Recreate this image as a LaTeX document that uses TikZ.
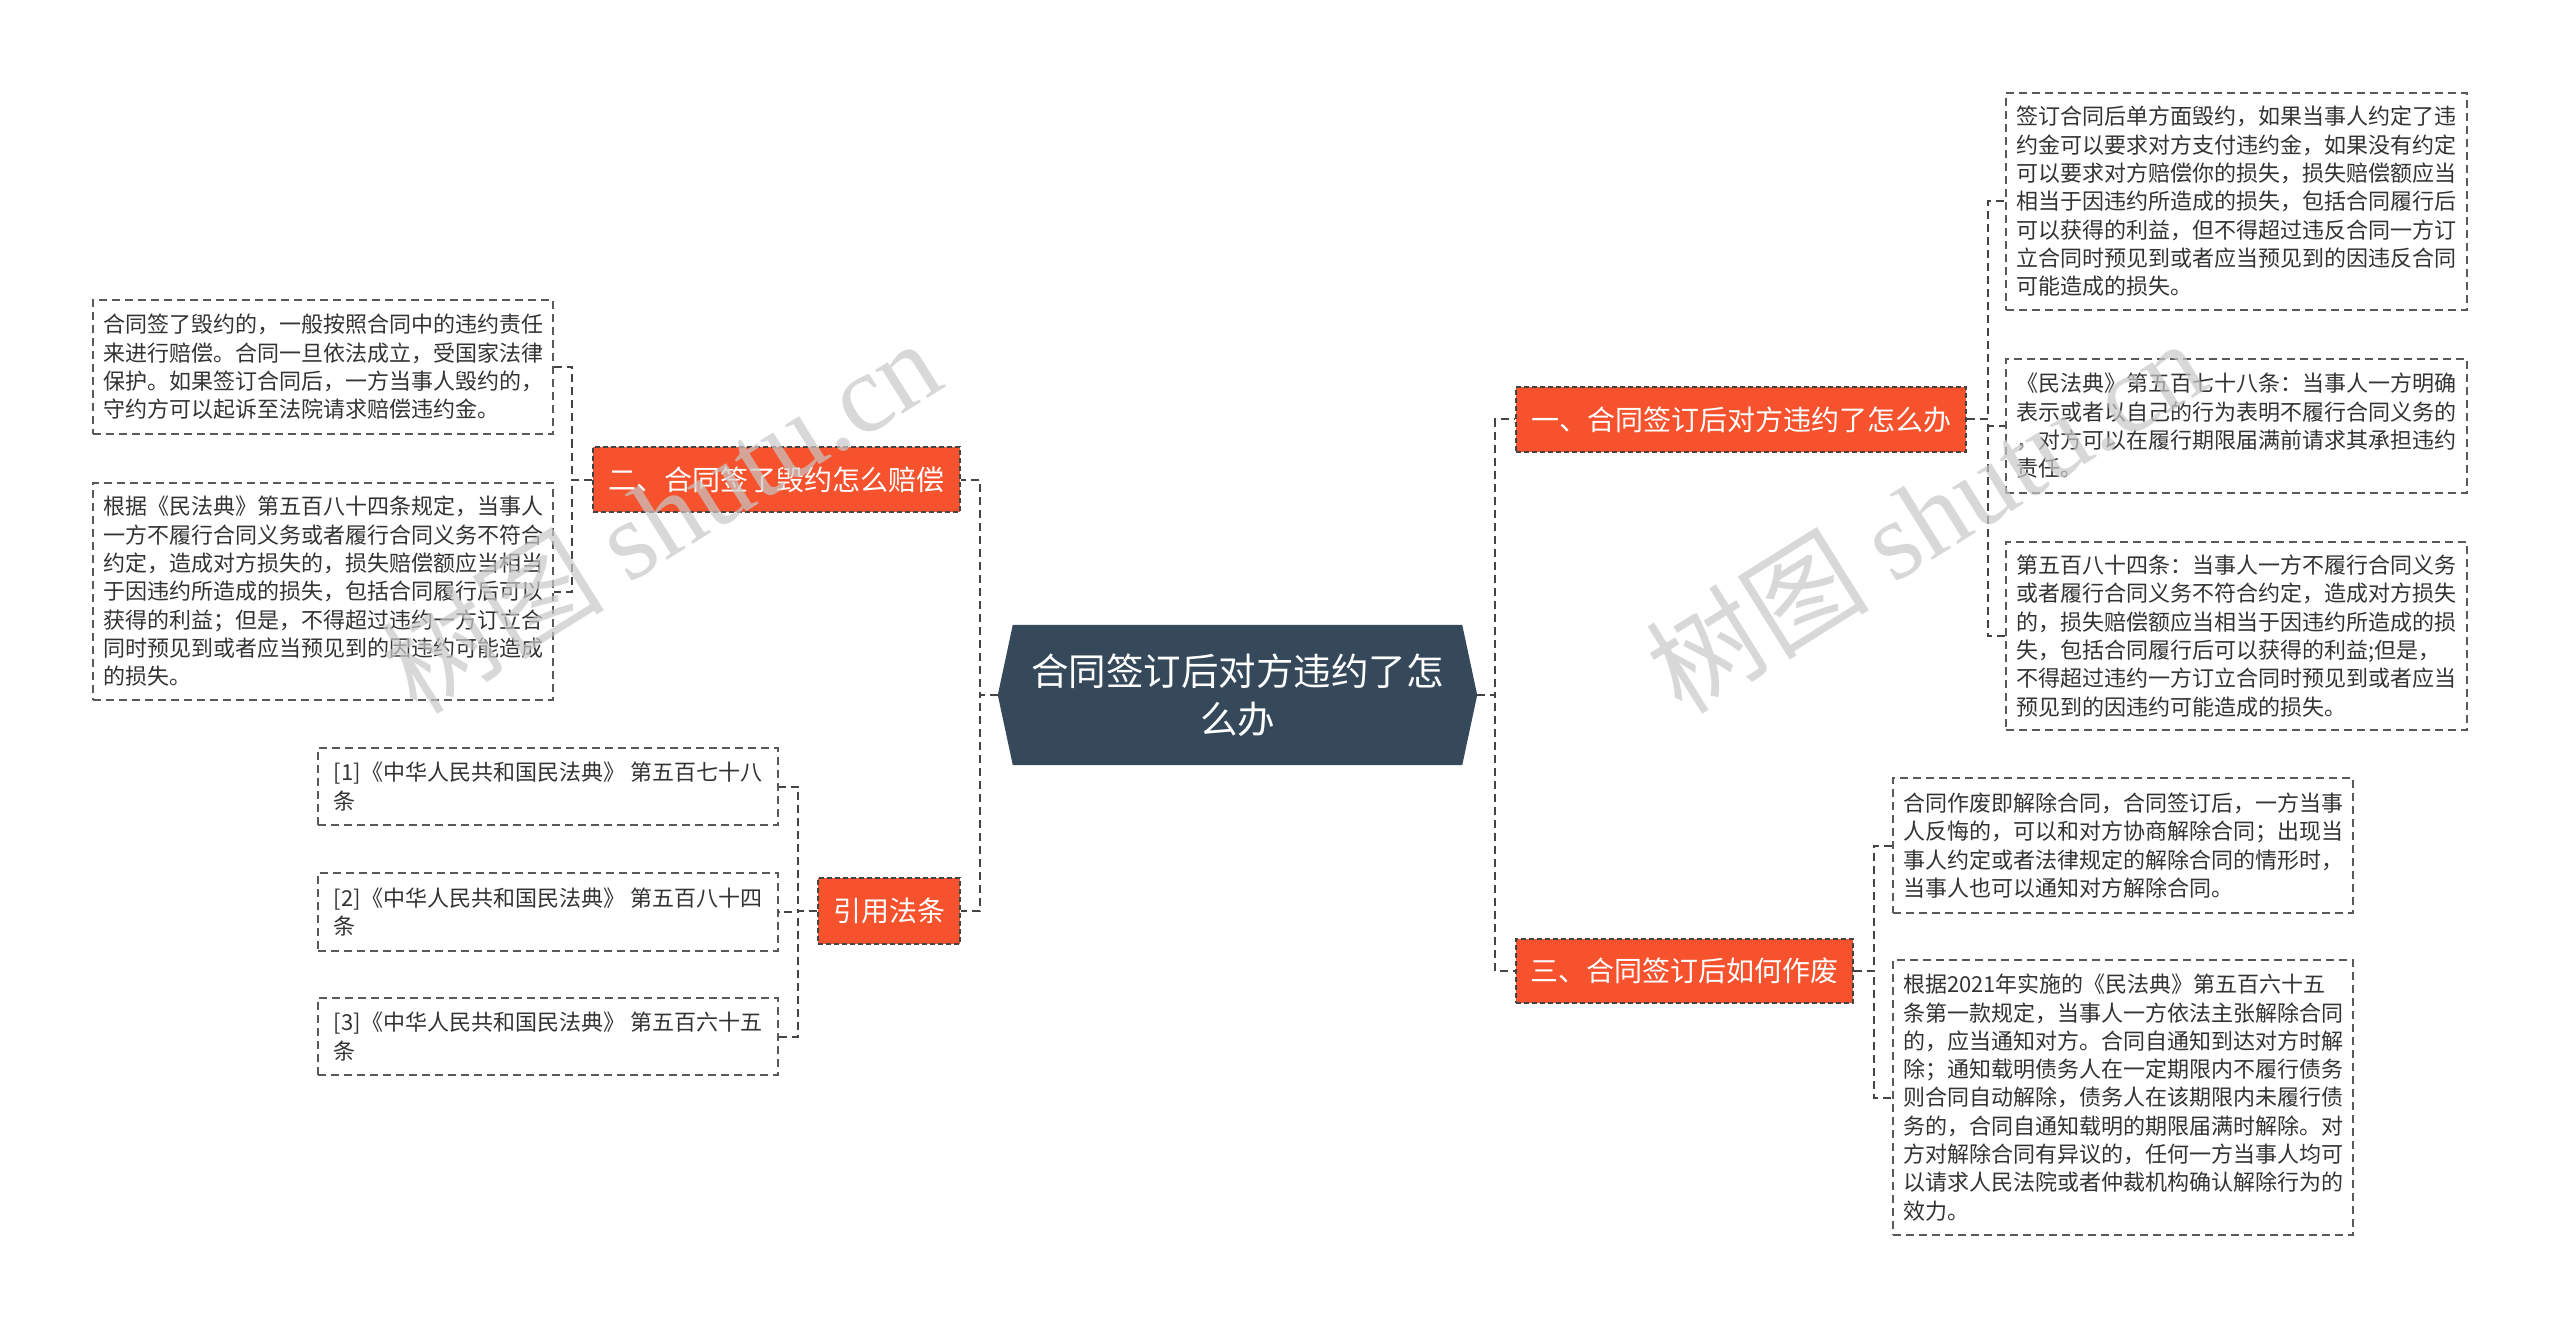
\documentclass[tikz,border=0pt]{standalone}
\usepackage{fontspec}
\newfontfamily\cjk{Noto Sans CJK SC}
\newfontfamily\wmlatin{Liberation Serif}
\usetikzlibrary{backgrounds}
\definecolor{orangebr}{HTML}{F5522D}
\definecolor{slatec}{HTML}{36495A}
\definecolor{linec}{HTML}{444444}
\definecolor{leaftext}{HTML}{333333}
\definecolor{wmc}{HTML}{C8C8C8}
\begin{document}
\begin{tikzpicture}[x=1pt,y=-1pt,
  conn/.style={draw=linec,line width=2pt,dash pattern=on 8pt off 5pt},
  branchbox/.style={fill=orangebr,draw=linec,line width=1.3pt,dash pattern=on 5pt off 3pt,
    text=white,inner sep=0pt,font=\cjk\fontsize{28}{34}\selectfont,minimum height=65pt},
  leafbox/.style={draw=black!65,line width=1.5pt,dash pattern=on 8pt off 5pt,
    text=leaftext,inner sep=0pt,align=left,minimum width=460pt,
    font=\cjk\fontsize{22}{28.3}\selectfont},
  wmark/.style={text=wmc,opacity=0.7,rotate=32,inner sep=0pt}
]
\useasboundingbox (0,0) rectangle (2560,1329);

% central node
\node[minimum width=479pt,minimum height=140pt,inner sep=0pt,text=white,align=center,
  font=\cjk\fontsize{37.5}{48}\selectfont] (c) at (1237.5,695) {合同签订后对方违约了怎\\么办};
\begin{scope}[on background layer]
\fill[white] (0,0) rectangle (2560,1329);
\fill[slatec] (c.west) -- ([xshift=15pt]c.north west) -- ([xshift=-15pt]c.north east) -- (c.east)
  -- ([xshift=-15pt]c.south east) -- ([xshift=15pt]c.south west) -- cycle;
\end{scope}

% branches
\node[branchbox,minimum width=367pt] (b2) at (776.5,479.5) {二、合同签了毁约怎么赔偿};
\node[branchbox,minimum width=142pt,minimum height=66pt] (b4) at (889,911) {引用法条};
\node[branchbox,minimum width=450pt] (b1) at (1741,419.5) {一、合同签订后对方违约了怎么办};
\node[branchbox,minimum width=337pt,minimum height=64pt] (b3) at (1684.5,971) {三、合同签订后如何作废};

% left leaves
\node[leafbox,minimum height=134pt] (L1) at (323,367) {合同签了毁约的，一般按照合同中的违约责任\\来进行赔偿。合同一旦依法成立，受国家法律\\保护。如果签订合同后，一方当事人毁约的，\\守约方可以起诉至法院请求赔偿违约金。};
\node[leafbox,minimum height=217pt] (L2) at (323,591.5) {根据《民法典》第五百八十四条规定，当事人\\一方不履行合同义务或者履行合同义务不符合\\约定，造成对方损失的，损失赔偿额应当相当\\于因违约所造成的损失，包括合同履行后可以\\获得的利益；但是，不得超过违约一方订立合\\同时预见到或者应当预见到的因违约可能造成\\的损失。};

\node[leafbox,minimum height=77pt] (R1) at (548,786.5) {[1]《中华人民共和国民法典》 第五百七十八\\条};
\node[leafbox,minimum height=78pt] (R2) at (548,912) {[2]《中华人民共和国民法典》 第五百八十四\\条};
\node[leafbox,minimum height=77pt] (R3) at (548,1036.5) {[3]《中华人民共和国民法典》 第五百六十五\\条};

% right leaves
\node[leafbox,minimum width=461pt,minimum height=217pt] (T1) at (2236.5,201.5) {签订合同后单方面毁约，如果当事人约定了违\\约金可以要求对方支付违约金，如果没有约定\\可以要求对方赔偿你的损失，损失赔偿额应当\\相当于因违约所造成的损失，包括合同履行后\\可以获得的利益，但不得超过违反合同一方订\\立合同时预见到或者应当预见到的因违反合同\\可能造成的损失。};
\node[leafbox,minimum width=461pt,minimum height=134pt] (T2) at (2236.5,426) {《民法典》第五百七十八条：当事人一方明确\\表示或者以自己的行为表明不履行合同义务的\\，对方可以在履行期限届满前请求其承担违约\\责任。};
\node[leafbox,minimum width=461pt,minimum height=188pt] (T3) at (2236.5,636) {第五百八十四条：当事人一方不履行合同义务\\或者履行合同义务不符合约定，造成对方损失\\的，损失赔偿额应当相当于因违约所造成的损\\失，包括合同履行后可以获得的利益;但是，\\不得超过违约一方订立合同时预见到或者应当\\预见到的因违约可能造成的损失。};
\node[leafbox,minimum height=135pt] (T4) at (2123,845.5) {合同作废即解除合同，合同签订后，一方当事\\人反悔的，可以和对方协商解除合同；出现当\\事人约定或者法律规定的解除合同的情形时，\\当事人也可以通知对方解除合同。};
\node[leafbox,minimum height=275pt] (T5) at (2123,1097.5) {根据2021年实施的《民法典》第五百六十五\\条第一款规定，当事人一方依法主张解除合同\\的，应当通知对方。合同自通知到达对方时解\\除；通知载明债务人在一定期限内不履行债务\\则合同自动解除，债务人在该期限内未履行债\\务的，合同自通知载明的期限届满时解除。对\\方对解除合同有异议的，任何一方当事人均可\\以请求人民法院或者仲裁机构确认解除行为的\\效力。};

% connectors
\draw[conn] (c.west) -- ++(-18,0) |- (b2.east);
\draw[conn] (c.west) -- ++(-18,0) |- (b4.east);
\draw[conn] (c.east) -- ++(18,0) |- (b1.west);
\draw[conn] (c.east) -- ++(18,0) |- (b3.west);
\draw[conn] (b2.west) -- ++(-20,0) |- (L1.east);
\draw[conn] (b2.west) -- ++(-20,0) |- (L2.east);
\draw[conn] (b4.west) -- ++(-19,0) |- (R1.east);
\draw[conn] (b4.west) -- ++(-19,0) |- (R2.east);
\draw[conn] (b4.west) -- ++(-19,0) |- (R3.east);
\draw[conn] (b1.east) -- ++(21,0) |- (T1.west);
\draw[conn] (b1.east) -- ++(21,0) |- (T2.west);
\draw[conn] (b1.east) -- ++(21,0) |- (T3.west);
\draw[conn] (b3.east) -- ++(20,0) |- (T4.west);
\draw[conn] (b3.east) -- ++(20,0) |- (T5.west);

% watermarks
\node[wmark] (wm1) at (660,515) {\cjk\fontsize{112}{112}\selectfont 树图 \wmlatin shutu.cn};
\node[wmark] (wm2) at (1925,515) {\cjk\fontsize{112}{112}\selectfont 树图 \wmlatin shutu.cn};
\end{tikzpicture}
\end{document}
